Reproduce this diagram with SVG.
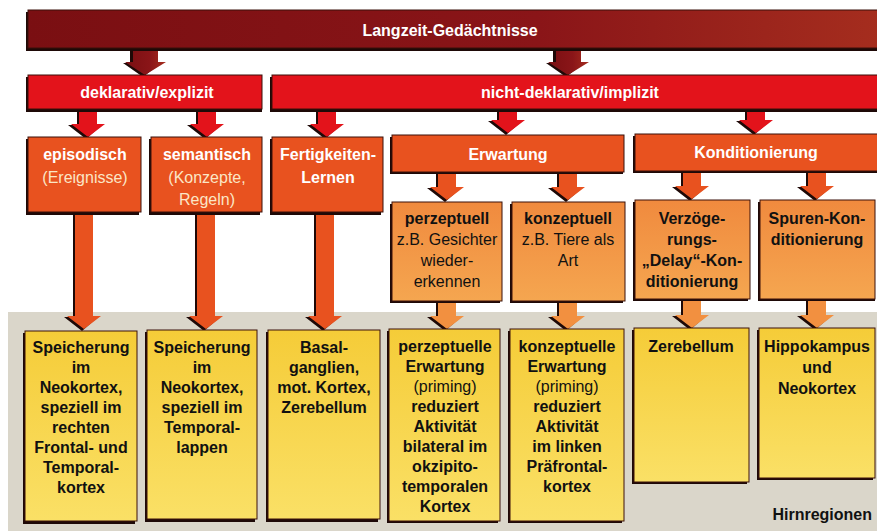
<svg xmlns="http://www.w3.org/2000/svg" width="877" height="531" viewBox="0 0 877 531">
<defs>
<linearGradient id="gDark" x1="0" y1="0" x2="1" y2="0"><stop offset="0" stop-color="#7a0f12"/><stop offset="0.6" stop-color="#8a1518"/><stop offset="1" stop-color="#a52d1e"/></linearGradient>
<linearGradient id="gYel" x1="0" y1="0" x2="0" y2="1"><stop offset="0" stop-color="#f5cc38"/><stop offset="1" stop-color="#fae066"/></linearGradient>
<linearGradient id="gLo" x1="0" y1="0" x2="0" y2="1"><stop offset="0" stop-color="#f08a3e"/><stop offset="1" stop-color="#f5a650"/></linearGradient>
</defs>
<style>
.sh{fill:#1e0907}
.bx{stroke:#3a110b;stroke-width:1}
.dark{fill:url(#gDark)}
.red{fill:#e3131b}
.or{fill:#e8521f}
.lo{fill:url(#gLo)}
.ye{fill:url(#gYel)}
text{font-family:"Liberation Sans",Arial,sans-serif;text-anchor:middle}
.wt{fill:#ffffff;font-weight:bold;font-size:16px}
.wn{fill:#fbe6c6;font-weight:normal;font-size:16px}
.bt{fill:#111;font-weight:bold;font-size:16px}
.bn{fill:#111;font-weight:normal;font-size:16px}
</style>
<rect x="0" y="0" width="877" height="531" fill="#ffffff"/>
<rect x="8" y="312" width="869" height="219" fill="#dad6ca"/>

<g id="connectors">
<polygon class="sh" points="130,48 155,48 155,63 161,63 143,77 123,63 130,63"/>
<polygon class="dark" points="133,48 158,48 158,62 166,62 145,75 125,62 133,62"/>
<polygon class="sh" points="553,48 578,48 578,63 584,63 566,77 546,63 553,63"/>
<polygon class="dark" points="556,48 581,48 581,62 589,62 568,75 548,62 556,62"/>
<g class="red">
<polygon class="sh" points="77,109 95,109 95,125 102,125 86,139 68,125 77,125"/>
<polygon points="79,109 97,109 97,124 105,124 88,137 71,124 79,124"/>
<polygon class="sh" points="196,109 214,109 214,125 221,125 205,139 187,125 196,125"/>
<polygon points="198,109 216,109 216,124 224,124 207,137 190,124 198,124"/>
<polygon class="sh" points="316,109 334,109 334,125 341,125 325,139 307,125 316,125"/>
<polygon points="318,109 336,109 336,124 344,124 327,137 310,124 318,124"/>
<polygon class="sh" points="497,109 515,109 515,121 522,121 506,135 488,121 497,121"/>
<polygon points="499,109 517,109 517,120 525,120 508,133 491,120 499,120"/>
<polygon class="sh" points="745,109 763,109 763,121 770,121 754,135 736,121 745,121"/>
<polygon points="747,109 765,109 765,120 773,120 756,133 739,120 747,120"/>
</g>
<g class="or">
<polygon class="sh" points="73,212 91,212 91,317 98,317 82,331 64,317 73,317"/>
<polygon points="75,212 93,212 93,316 101,316 84,329 67,316 75,316"/>
<polygon class="sh" points="195,212 213,212 213,317 220,317 204,331 186,317 195,317"/>
<polygon points="197,212 215,212 215,316 223,316 206,329 189,316 197,316"/>
<polygon class="sh" points="314,212 332,212 332,317 339,317 323,331 305,317 314,317"/>
<polygon points="316,212 334,212 334,316 342,316 325,329 308,316 316,316"/>
<polygon class="sh" points="436,172 454,172 454,188 461,188 445,202 427,188 436,188"/>
<polygon points="438,172 456,172 456,187 464,187 447,200 430,187 438,187"/>
<polygon class="sh" points="557,172 575,172 575,188 582,188 566,202 548,188 557,188"/>
<polygon points="559,172 577,172 577,187 585,187 568,200 551,187 559,187"/>
<polygon class="sh" points="681,171 699,171 699,187 706,187 690,201 672,187 681,187"/>
<polygon points="683,171 701,171 701,186 709,186 692,199 675,186 683,186"/>
<polygon class="sh" points="806,171 824,171 824,187 831,187 815,201 797,187 806,187"/>
<polygon points="808,171 826,171 826,186 834,186 817,199 800,186 808,186"/>
</g>
<g fill="#f29040">
<polygon class="sh" points="436,300 454,300 454,317 461,317 445,331 427,317 436,317"/>
<polygon points="438,300 456,300 456,316 464,316 447,329 430,316 438,316"/>
<polygon class="sh" points="557,300 575,300 575,317 582,317 566,331 548,317 557,317"/>
<polygon points="559,300 577,300 577,316 585,316 568,329 551,316 559,316"/>
<polygon class="sh" points="681,299 699,299 699,316 706,316 690,330 672,316 681,316"/>
<polygon points="683,299 701,299 701,315 709,315 692,328 675,315 683,315"/>
<polygon class="sh" points="806,299 824,299 824,316 831,316 815,330 797,316 806,316"/>
<polygon points="808,299 826,299 826,315 834,315 817,328 800,315 808,315"/>
</g>
</g>

<g id="n-langzeit">
<rect class="sh" x="26" y="12" width="851" height="39"/>
<rect class="dark bx" x="28" y="10" width="851" height="38"/>
<text class="wt" x="450" y="36">Langzeit-Gedächtnisse</text>
</g>

<g id="n-deklarativ">
<rect class="sh" x="26" y="77" width="236" height="35"/>
<rect class="red bx" x="28" y="75" width="234" height="34"/>
<text class="wt" x="147" y="98">deklarativ/explizit</text>
</g>

<g id="n-nichtdeklarativ">
<rect class="sh" x="270" y="77" width="607" height="35"/>
<rect class="red bx" x="272" y="75" width="607" height="34"/>
<text class="wt" x="570" y="98">nicht-deklarativ/implizit</text>
</g>

<g id="n-episodisch">
<rect class="sh" x="26" y="139" width="113" height="76"/>
<rect class="or bx" x="28" y="137" width="113" height="75"/>
<text class="wt" x="85" y="160">episodisch</text>
<text class="wn" x="85" y="183">(Ereignisse)</text>
</g>

<g id="n-semantisch">
<rect class="sh" x="149" y="139" width="111" height="76"/>
<rect class="or bx" x="151" y="137" width="111" height="75"/>
<text class="wt" x="207" y="160">semantisch</text>
<text class="wn" x="207" y="183">(Konzepte,</text>
<text class="wn" x="207" y="205">Regeln)</text>
</g>

<g id="n-fertigkeiten">
<rect class="sh" x="270" y="139" width="111" height="76"/>
<rect class="or bx" x="272" y="137" width="111" height="75"/>
<text class="wt" x="328" y="160">Fertigkeiten-</text>
<text class="wt" x="328" y="183">Lernen</text>
</g>

<g id="n-erwartung">
<rect class="sh" x="390" y="137" width="233" height="37"/>
<rect class="or bx" x="392" y="135" width="232" height="37"/>
<text class="wt" x="508" y="160">Erwartung</text>
</g>

<g id="n-konditionierung">
<rect class="sh" x="633" y="136" width="244" height="37"/>
<rect class="or bx" x="635" y="134" width="244" height="37"/>
<text class="wt" x="756" y="158">Konditionierung</text>
</g>

<g id="n-perzeptuell">
<rect class="sh" x="390" y="204" width="110" height="99"/>
<rect class="lo bx" x="392" y="202" width="110" height="99"/>
<text class="bt" x="447" y="224">perzeptuell</text>
<text class="bn" x="447" y="245">z.B. Gesichter</text>
<text class="bn" x="447" y="266">wieder-</text>
<text class="bn" x="447" y="287">erkennen</text>
</g>

<g id="n-konzeptuell">
<rect class="sh" x="510" y="204" width="113" height="99"/>
<rect class="lo bx" x="512" y="202" width="113" height="99"/>
<text class="bt" x="568" y="224">konzeptuell</text>
<text class="bn" x="568" y="245">z.B. Tiere als</text>
<text class="bn" x="568" y="266">Art</text>
</g>

<g id="n-verzoegerung">
<rect class="sh" x="633" y="202" width="115" height="99"/>
<rect class="lo bx" x="635" y="200" width="115" height="99"/>
<text class="bt" x="692" y="224">Verzöge-</text>
<text class="bt" x="692" y="245">rungs-</text>
<text class="bt" x="692" y="266">„Delay“-Kon-</text>
<text class="bt" x="692" y="287">ditionierung</text>
</g>

<g id="n-spuren">
<rect class="sh" x="758" y="202" width="117" height="99"/>
<rect class="lo bx" x="760" y="200" width="115" height="99"/>
<text class="bt" x="817" y="224">Spuren-Kon-</text>
<text class="bt" x="817" y="245">ditionierung</text>
</g>

<g id="n-speicherung1">
<rect class="sh" x="23" y="333" width="112" height="191"/>
<rect class="ye bx" x="25" y="331" width="112" height="190"/>
<text class="bt" x="81" y="353">Speicherung</text>
<text class="bt" x="81" y="373">im</text>
<text class="bt" x="81" y="393">Neokortex,</text>
<text class="bt" x="81" y="413">speziell im</text>
<text class="bt" x="81" y="433">rechten</text>
<text class="bt" x="81" y="453">Frontal- und</text>
<text class="bt" x="81" y="473">Temporal-</text>
<text class="bt" x="81" y="493">kortex</text>
</g>

<g id="n-speicherung2">
<rect class="sh" x="145" y="332" width="110" height="190"/>
<rect class="ye bx" x="147" y="330" width="110" height="189"/>
<text class="bt" x="202" y="353">Speicherung</text>
<text class="bt" x="202" y="373">im</text>
<text class="bt" x="202" y="393">Neokortex,</text>
<text class="bt" x="202" y="413">speziell im</text>
<text class="bt" x="202" y="433">Temporal-</text>
<text class="bt" x="202" y="453">lappen</text>
</g>

<g id="n-basalganglien">
<rect class="sh" x="266" y="332" width="112" height="190"/>
<rect class="ye bx" x="268" y="330" width="112" height="189"/>
<text class="bt" x="324" y="353">Basal-</text>
<text class="bt" x="324" y="373">ganglien,</text>
<text class="bt" x="324" y="393">mot. Kortex,</text>
<text class="bt" x="324" y="413">Zerebellum</text>
</g>

<g id="n-perzeptuelle">
<rect class="sh" x="387" y="331" width="111" height="192"/>
<rect class="ye bx" x="389" y="329" width="111" height="192"/>
<text class="bt" x="445" y="352">perzeptuelle</text>
<text class="bt" x="445" y="372">Erwartung</text>
<text class="bn" x="445" y="392">(priming)</text>
<text class="bt" x="445" y="412">reduziert</text>
<text class="bt" x="445" y="432">Aktivität</text>
<text class="bt" x="445" y="452">bilateral im</text>
<text class="bt" x="445" y="472">okzipito-</text>
<text class="bt" x="445" y="492">temporalen</text>
<text class="bt" x="445" y="512">Kortex</text>
</g>

<g id="n-konzeptuelle">
<rect class="sh" x="508" y="331" width="114" height="192"/>
<rect class="ye bx" x="510" y="329" width="114" height="192"/>
<text class="bt" x="567" y="352">konzeptuelle</text>
<text class="bt" x="567" y="372">Erwartung</text>
<text class="bn" x="567" y="392">(priming)</text>
<text class="bt" x="567" y="412">reduziert</text>
<text class="bt" x="567" y="432">Aktivität</text>
<text class="bt" x="567" y="452">im linken</text>
<text class="bt" x="567" y="472">Präfrontal-</text>
<text class="bt" x="567" y="492">kortex</text>
</g>

<g id="n-zerebellum">
<rect class="sh" x="632" y="330" width="115" height="154"/>
<rect class="ye bx" x="634" y="328" width="115" height="154"/>
<text class="bt" x="691" y="352">Zerebellum</text>
</g>

<g id="n-hippokampus">
<rect class="sh" x="757" y="330" width="116" height="150"/>
<rect class="ye bx" x="759" y="328" width="116" height="150"/>
<text class="bt" x="817" y="352">Hippokampus</text>
<text class="bt" x="817" y="373">und</text>
<text class="bt" x="817" y="394">Neokortex</text>
</g>

<text class="bt" x="872" y="520" style="text-anchor:end">Hirnregionen</text>
</svg>
